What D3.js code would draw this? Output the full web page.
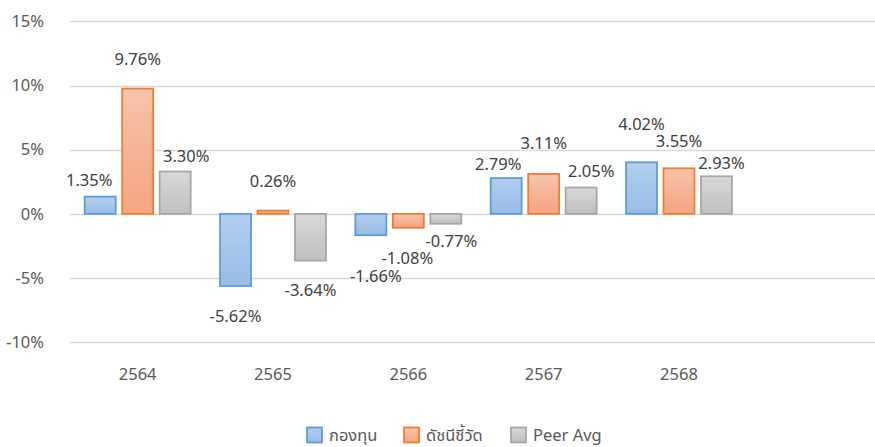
<!DOCTYPE html>
<html><head><meta charset="utf-8">
<script src="https://cdn.jsdelivr.net/npm/d3@7"></script>
<style>
html,body{margin:0;padding:0;background:#fff;}
text{font-family:"Noto Sans","Noto Sans Thai",Tahoma,sans-serif;}
</style></head>
<body><svg id="chart" width="875" height="447"></svg>
<script>
// ---- data ----
const categories = ["2564","2565","2566","2567","2568"];
const seriesNames = ["กองทุน","ดัชนีชี้วัด","Peer Avg"];
const fund  = [1.35, -5.62, -1.66, 2.79, 4.02];
const index = [9.76, 0.26, -1.08, 3.11, 3.55];
const peer  = [3.30, -3.64, -0.77, 2.05, 2.93];
const yTicks = [-10, -5, 0, 5, 10, 15];

// ---- layout/style (not data) ----
const seriesValues = [fund, index, peer];
const fills = [["#b3cdef","#98bbe6"],["#f8c3ab","#f4a47f"],["#d8d8d8","#bfbfbf"]];
const strokes = ["#5b9bd5","#ed7d31","#a5a5a5"];
// label nudges (dx, dy from bar end to text centre), per series x category
const labelDx = [[-11,0,5,-8,0],[0,0,-1,0,0],[11,0,5.5,10,5]];
const labelDy = [[-16.6,30.4,40.8,-14.1,-38.3],[-29.6,-29.6,30.2,-30.5,-26.8],[-15,29.4,17.2,-16.6,-13.3]];

const svg = d3.select("#chart");
const plotLeft = 70, plotRight = 882;
const y = d3.scaleLinear().domain([-10, 15]).range([342.3, 21.3]);
const xDomain = categories.concat([""]);
const x = d3.scaleBand().domain(xDomain).range([plotLeft, plotRight]).padding(0);
const x1 = d3.scaleBand().domain(d3.range(3)).range([-53, 53]).paddingInner(0.1733).paddingOuter(0);

const defs = svg.append("defs");
fills.forEach((f, i) => {
  const g = defs.append("linearGradient").attr("id", "g" + i).attr("x1", 0).attr("y1", 0).attr("x2", 0).attr("y2", 1);
  g.append("stop").attr("offset", "0%").attr("stop-color", f[0]);
  g.append("stop").attr("offset", "100%").attr("stop-color", f[1]);
});

// gridlines
svg.append("g").selectAll("line").data(yTicks).join("line")
  .attr("x1", plotLeft).attr("x2", 875)
  .attr("y1", d => Math.round(y(d)) + 0.5).attr("y2", d => Math.round(y(d)) + 0.5)
  .attr("stroke", "#d9d9d9").attr("stroke-width", 1.5);

// y axis labels
svg.append("g").selectAll("text").data(yTicks).join("text")
  .attr("x", 44).attr("y", d => y(d)).attr("dy", "0.35em")
  .attr("text-anchor", "end").attr("font-size", 16.5).attr("fill", "#595959")
  .text(d => d + "%");

// x labels
svg.append("g").selectAll("text").data(categories).join("text")
  .attr("x", d => x(d) + x.bandwidth() / 2).attr("y", 374).attr("dy", "0.35em")
  .attr("text-anchor", "middle").attr("font-size", 16.5).attr("fill", "#595959")
  .text(d => d);

// bars
seriesValues.forEach((vals, s) => {
  const g = svg.append("g");
  g.selectAll("rect").data(vals).join("rect")
    .attr("x", (d, i) => x(categories[i]) + x.bandwidth() / 2 + x1(s))
    .attr("width", x1.bandwidth())
    .attr("y", d => Math.min(y(d), y(0)))
    .attr("height", d => Math.abs(y(d) - y(0)))
    .attr("fill", "url(#g" + s + ")")
    .attr("stroke", strokes[s]).attr("stroke-width", 1.75);
  g.selectAll("text").data(vals).join("text")
    .attr("x", (d, i) => x(categories[i]) + x.bandwidth() / 2 + x1(s) + x1.bandwidth() / 2 + labelDx[s][i])
    .attr("y", (d, i) => y(d) + labelDy[s][i]).attr("dy", "0.35em")
    .attr("text-anchor", "middle").attr("font-size", 16.5).attr("fill", "#404040")
    .text(d => d.toFixed(2) + "%");
});

// legend
const legendX = [307, 404, 511];
const lg = svg.append("g");
seriesNames.forEach((n, s) => {
  lg.append("rect").attr("x", legendX[s]).attr("y", 427.5).attr("width", 15).attr("height", 15)
    .attr("fill", "url(#g" + s + ")").attr("stroke", strokes[s]).attr("stroke-width", 1.75);
  lg.append("text").attr("x", legendX[s] + 22).attr("y", 435).attr("dy", "0.35em")
    .attr("font-size", 16.5).attr("fill", "#595959").text(n);
});
</script>
</body></html>
